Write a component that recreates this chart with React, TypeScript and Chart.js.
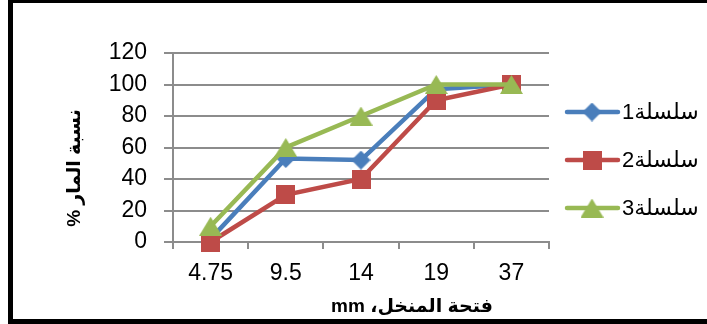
import React, { useEffect, useRef } from "react";
import { Chart, registerables } from "chart.js";

Chart.register(...registerables);

// Sieve openings (mm) along the x axis
const categories = ["4.75", "9.5", "14", "19", "37"];

// Percent passing for each series
const series1 = [2, 53, 52, 97, 100];
const series2 = [0, 30, 40, 90, 100];
const series3 = [10, 60, 80, 100, 100];

const seriesNames = ["سلسلة1", "سلسلة2", "سلسلة3"];
const seriesColors = ["#4A7EBB", "#BE4B48", "#98B954"];

const yMin = 0;
const yMax = 120;
const yStep = 20;

const xTitle = "فتحة المنخل، mm";
const yTitle = "نسبة المار %";

const FONT = "'Liberation Sans', 'DejaVu Sans', Arial, sans-serif";
const GRID = "#8c8c8c";

type Shape = "diamond" | "square" | "triangle";

function makeMarker(shape: Shape, color: string): HTMLCanvasElement {
  const c = document.createElement("canvas");
  const w = shape === "triangle" ? 23 : 19;
  const h = 19;
  c.width = w;
  c.height = h;
  const ctx = c.getContext("2d")!;
  ctx.fillStyle = color;
  ctx.beginPath();
  if (shape === "square") {
    ctx.rect(0, 0, w, h);
  } else if (shape === "diamond") {
    ctx.moveTo(w / 2, 0);
    ctx.lineTo(w, h / 2);
    ctx.lineTo(w / 2, h);
    ctx.lineTo(0, h / 2);
    ctx.closePath();
  } else {
    ctx.moveTo(w / 2, 0);
    ctx.lineTo(w, h);
    ctx.lineTo(0, h);
    ctx.closePath();
  }
  ctx.fill();
  return c;
}

export default function App() {
  const canvasRef = useRef<HTMLCanvasElement | null>(null);

  useEffect(() => {
    const canvas = canvasRef.current;
    if (!canvas) return;

    const markers = [
      makeMarker("diamond", seriesColors[0]),
      makeMarker("square", seriesColors[1]),
      makeMarker("triangle", seriesColors[2]),
    ];
    const values = [series1, series2, series3];

    // Frame, axis titles and the line-with-marker legend
    const decorations = {
      id: "decorations",
      afterDraw(chart: Chart) {
        const ctx = chart.ctx;
        ctx.save();

        // black frame (left, top, bottom)
        ctx.fillStyle = "#000";
        ctx.fillRect(8, 0, 5, 324);
        ctx.fillRect(8, 0, 707, 3);
        ctx.fillRect(8, 319, 707, 5);

        // legend
        ctx.font = `22px ${FONT}`;
        ctx.textBaseline = "middle";
        for (let i = 0; i < seriesNames.length; i++) {
          const y = 112 + 48 * i;
          ctx.strokeStyle = seriesColors[i];
          ctx.lineWidth = 4.5;
          ctx.lineCap = "round";
          ctx.beginPath();
          ctx.moveTo(567, y);
          ctx.lineTo(618, y);
          ctx.stroke();
          const m = markers[i];
          ctx.drawImage(m, 592 - m.width / 2, y - m.height / 2);
          ctx.fillStyle = "#000";
          ctx.direction = "rtl";
          ctx.textAlign = "left";
          ctx.fillText(seriesNames[i], 622, y + 1);
        }

        // x title
        ctx.direction = "rtl";
        ctx.font = `bold 19px ${FONT}`;
        ctx.textAlign = "center";
        ctx.textBaseline = "middle";
        ctx.fillStyle = "#000";
        ctx.fillText(xTitle, 412, 307);

        // y title
        ctx.translate(75, 168);
        ctx.rotate(-Math.PI / 2);
        ctx.font = `bold 19px ${FONT}`;
        ctx.fillText(yTitle, 0, 0);

        ctx.restore();
      },
    };

    const chart = new Chart(canvas, {
      type: "line",
      data: {
        labels: categories,
        datasets: values.map((v, i) => ({
          label: seriesNames[i],
          data: v,
          borderColor: seriesColors[i],
          backgroundColor: seriesColors[i],
          borderWidth: 4.5,
          pointStyle: markers[i],
          pointRadius: 9,
          pointHoverRadius: 9,
          tension: 0,
          clip: false,
          order: 3 - i,
        })),
      },
      options: {
        responsive: false,
        animation: false,
        events: [],
        layout: { padding: { left: 100, right: 158, top: 53, bottom: 0 } },
        plugins: {
          legend: { display: false },
          tooltip: { enabled: false },
          title: { display: false },
        },
        scales: {
          x: {
            type: "category",
            offset: true,
            grid: {
              offset: true,
              drawOnChartArea: false,
              drawTicks: true,
              tickLength: 7,
              color: GRID,
              lineWidth: 2,
            },
            border: { display: true, color: GRID, width: 2 },
            ticks: {
              color: "#000",
              padding: 11,
              maxRotation: 0,
              font: { family: FONT, size: 23 },
            },
            afterFit(scale: any) {
              scale.height = 82;
            },
          },
          y: {
            min: yMin,
            max: yMax,
            grid: {
              color: GRID,
              lineWidth: 2,
              tickLength: 9,
            },
            border: { display: true, color: GRID, width: 2 },
            ticks: {
              stepSize: yStep,
              color: "#000",
              padding: 17,
              font: { family: FONT, size: 23 },
            },
            afterFit(scale: any) {
              scale.width = 73;
            },
          },
        },
      },
      plugins: [decorations],
    });

    return () => chart.destroy();
  }, []);

  return (
    <div
      style={{
        position: "fixed",
        left: 0,
        top: 0,
        width: 707,
        height: 324,
        background: "#fff",
      }}
    >
      <canvas ref={canvasRef} width={707} height={324} style={{ display: "block" }} />
    </div>
  );
}
